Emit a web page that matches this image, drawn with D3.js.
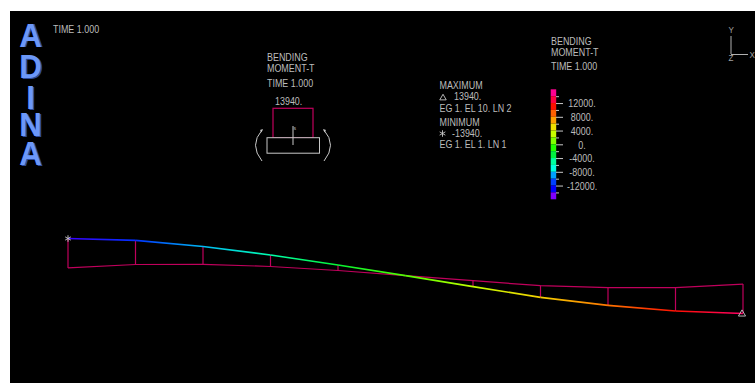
<!DOCTYPE html>
<html>
<head>
<meta charset="utf-8">
<script src="https://cdn.jsdelivr.net/npm/d3@7"></script>
<style>
  html, body { margin: 0; padding: 0; background: #fff; overflow: hidden; }
  svg { display: block; }
  text { font-family: 'Liberation Sans', sans-serif; font-size: 10.5px; fill: #bcbcbc; }
</style>
</head>
<body>
<svg width="755" height="383"></svg>
<script>
const nodes = [0, 1, 2, 3, 4, 5, 6, 7, 8, 9, 10]
const deflection = [0, -1.8, -8, -16.5, -26.5, -37.2, -48.2, -58.8, -66.8, -72.5, -75]
const moment = [-13940, -11470, -8440, -5450, -2600, 0, 2845, 5500, 8345, 11050, 13940]

const barBands = [16000, 14000, 12000, 10000, 8000, 6000, 4000, 2000, 0, -2000, -4000, -6000, -8000, -10000, -12000, -14000]
const barColors = ['#ff0090', '#ff0040', '#ff1000', '#ff6000', '#ffa000', '#f0e000', '#c8ff00', '#80ff00',
  '#20ff00', '#00f040', '#00ffa0', '#00ffe0', '#00a0ff', '#0040ff', '#0000ff', '#8000ff']
const labelTicks = [12000, 8000, 4000, 0, -4000, -8000, -12000]
const minorTicks = [14000, 10000, 6000, 2000, -2000, -6000, -10000, -14000]

const logoLetters = ['A', 'D', 'I', 'N', 'A']
const maxMoment = 13940
const diagramColor = '#c0005c'
const narrow = 0.85

function main() {
  let svg = d3.select('svg')

  svg.append('rect').attr('x', 10).attr('y', 11).attr('width', 745).attr('height', 372).attr('fill', '#000')

  let xScale = d3.scaleLinear().domain([0, 10]).range([68, 743]),
    yScale = d3.scaleLinear().domain([0, -75]).range([238.5, 313.5]),
    gapScale = d3.scaleLinear().domain([0, maxMoment]).range([0, 29.4]),
    barScale = d3.scaleLinear().domain([16000, -16000]).range([89.3, 199.3])

  // band centres give a smooth colour along the beam
  let bandCentres = barBands.map(d => d - 1000)
  let lineColor = d3.scaleLinear().domain(bandCentres).range(barColors).clamp(true)

  let beamY = i => yScale(deflection[i])
  let diagramY = i => beamY(i) - gapScale(moment[i])

  // ADINA logo
  let logoBase = [46.5, 78, 109, 136, 165]
  svg.append('g').selectAll('text').data(logoLetters).enter().append('text')
    .attr('transform', (d, i) => 'translate(30.5,' + logoBase[i] + ') scale(0.92,1)')
    .attr('text-anchor', 'middle')
    .style('font-size', '34px').style('font-weight', 'bold').style('fill', '#6c98f8')
    .style('text-shadow', '1.5px 0.5px 0 #2c4a9a')
    .text(d => d)

  let label = (x, y, s) => svg.append('text')
    .attr('transform', 'translate(' + x + ',' + y + ') scale(' + narrow + ',1)').text(s)

  label(53, 33, 'TIME 1.000')

  // moment diagram, drawn under the beam
  let diagramLine = d3.line().x(i => xScale(i)).y(i => diagramY(i))
  svg.append('path').attr('d', diagramLine(nodes))
    .attr('fill', 'none').attr('stroke', diagramColor).attr('stroke-width', 1.2)

  svg.selectAll('.node-tick').data(nodes).enter().append('line')
    .attr('class', 'node-tick')
    .attr('x1', i => xScale(i)).attr('x2', i => xScale(i))
    .attr('y1', i => beamY(i)).attr('y2', i => diagramY(i))
    .attr('stroke', diagramColor).attr('stroke-width', 1.2)

  // beam coloured by moment
  let defs = svg.append('defs')
  d3.pairs(nodes).forEach(([a, b]) => {
    let grad = defs.append('linearGradient').attr('id', 'seg' + a)
      .attr('gradientUnits', 'userSpaceOnUse')
      .attr('x1', xScale(a)).attr('x2', xScale(b)).attr('y1', beamY(a)).attr('y2', beamY(b))
    grad.append('stop').attr('offset', 0).attr('stop-color', lineColor(moment[a]))
    grad.append('stop').attr('offset', 1).attr('stop-color', lineColor(moment[b]))
    svg.append('path')
      .attr('d', 'M' + xScale(a) + ',' + beamY(a) + 'L' + xScale(b) + ',' + beamY(b))
      .attr('stroke', 'url(#seg' + a + ')').attr('stroke-width', 1.7).attr('fill', 'none')
  })

  // min and max markers
  let asterisk = d3.symbol().type(d3.symbolAsterisk).size(30)
  let triangle = d3.symbol().type(d3.symbolTriangle).size(22)
  let marker = (x, y, gen) => svg.append('path').attr('transform', 'translate(' + x + ',' + y + ')')
    .attr('d', gen()).attr('fill', 'none').attr('stroke', '#c8c8c8').attr('stroke-width', 0.9)
  marker(xScale(0), yScale(0), asterisk)
  marker(xScale(10) - 1, yScale(-75) + 0.5, triangle)

  // section key
  label(267, 61, 'BENDING')
  label(267, 72, 'MOMENT-T')
  label(267, 87, 'TIME 1.000')
  label(275, 105, '13940.')

  svg.append('rect').attr('x', 273).attr('width', 40)
    .attr('y', 137.7 - gapScale(maxMoment)).attr('height', gapScale(maxMoment))
    .attr('fill', 'none').attr('stroke', diagramColor).attr('stroke-width', 1.2)
  svg.append('rect').attr('x', 267).attr('y', 137.7).attr('width', 52.5).attr('height', 15.5)
    .attr('fill', '#000').attr('stroke', '#c8c8c8').attr('stroke-width', 1)
  svg.append('line').attr('x1', 293).attr('x2', 293).attr('y1', 126).attr('y2', 145)
    .attr('stroke', '#c8c8c8')
  label(293.5, 130, 's').style('font-size', '6px')

  svg.append('path').attr('d', 'M262,130Q249,145 262,161').attr('fill', 'none').attr('stroke', '#c8c8c8')
  svg.append('path').attr('d', 'M324,130Q337,145 324,161').attr('fill', 'none').attr('stroke', '#c8c8c8')
  svg.append('path').attr('d', 'M263,129l-3,1l1.5,2.5z').attr('fill', '#c8c8c8')
  svg.append('path').attr('d', 'M323,129l3,1l-1.5,2.5z').attr('fill', '#c8c8c8')

  // extreme values
  label(439.5, 89, 'MAXIMUM')
  marker(443, 98, d3.symbol().type(d3.symbolTriangle).size(18))
  label(454, 100, '13940.')
  label(439.5, 111.5, 'EG 1. EL 10. LN 2')
  label(439.5, 125.5, 'MINIMUM')
  marker(442.5, 133.5, asterisk)
  label(452, 136.5, '-13940.')
  label(439.5, 147.5, 'EG 1. EL 1. LN 1')

  // colour bar
  label(551, 45, 'BENDING')
  label(551, 56, 'MOMENT-T')
  label(551, 70, 'TIME 1.000')

  svg.selectAll('.band').data(barBands).enter().append('rect')
    .attr('class', 'band')
    .attr('x', 550.7).attr('width', 5.5)
    .attr('y', d => barScale(d))
    .attr('height', d => barScale(d - 2000) - barScale(d))
    .attr('fill', (d, i) => barColors[i])

  let majorAxis = d3.axisRight(barScale).tickValues(labelTicks).tickSize(7).tickPadding(0)
    .tickFormat(d => d + '.')
  let minorAxis = d3.axisRight(barScale).tickValues(minorTicks).tickSize(3).tickFormat('')

  let major = svg.append('g').attr('transform', 'translate(556,0)').call(majorAxis)
  major.select('.domain').remove()
  major.selectAll('line').attr('stroke', '#c8c8c8')
  major.selectAll('text').attr('x', 0).attr('dy', '0.36em').attr('text-anchor', 'middle')
    .attr('transform', 'translate(26,0) scale(' + narrow + ',1)')

  let minor = svg.append('g').attr('transform', 'translate(556,0)').call(minorAxis)
  minor.select('.domain').remove()
  minor.selectAll('line').attr('stroke', '#c8c8c8')

  // axes triad
  svg.append('line').attr('x1', 731).attr('x2', 731).attr('y1', 36).attr('y2', 54).attr('stroke', '#b0b0b0')
  svg.append('line').attr('x1', 731).attr('x2', 748).attr('y1', 54.5).attr('y2', 54.5).attr('stroke', '#b0b0b0')
  label(728.5, 33, 'Y').style('fill', '#a0a0a0').style('font-size', '9.5px')
  label(728.5, 60.5, 'Z').style('fill', '#a0a0a0').style('font-size', '9.5px')
  label(749.5, 58, 'X').style('fill', '#a0a0a0').style('font-size', '9.5px')
}

main()
</script>
</body>
</html>
